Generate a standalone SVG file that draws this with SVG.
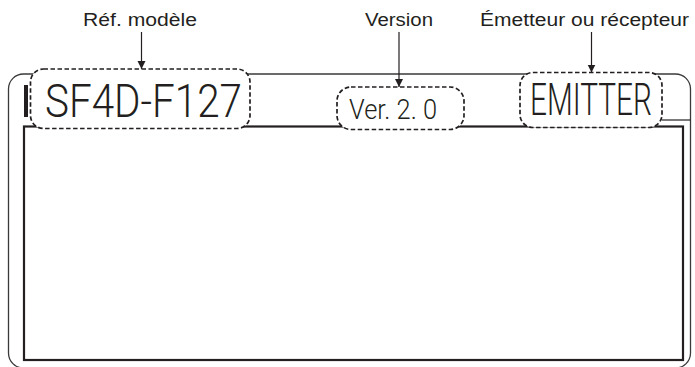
<svg xmlns="http://www.w3.org/2000/svg" width="695" height="367" viewBox="0 0 695 367">
<style>
.lbl{font-family:"Liberation Sans",Arial,sans-serif;font-size:18px;fill:#231f20}
.big{font-family:Roboto,"Liberation Sans",sans-serif;font-weight:300;fill:#231f20}
.dash{fill:#fff;stroke:#231f20;stroke-width:1.7;stroke-dasharray:4.5 2.5}
.ln{stroke:#231f20;stroke-width:1.2;fill:none}
</style>
<defs>
<marker id="ah" viewBox="0 0 10 10" refX="10" refY="5" markerWidth="8" markerHeight="11" markerUnits="userSpaceOnUse" orient="auto">
<path d="M0,0 L10,5 L0,10 z" fill="#231f20"/>
</marker>
</defs>
<g id="panel">
<rect x="8.5" y="74" width="682" height="294" rx="15" fill="none" stroke="#3a3a3a" stroke-width="1.3"/>
<line x1="662" y1="120" x2="690.5" y2="120" class="ln"/>
<rect x="24" y="126.5" width="659" height="233.5" fill="none" stroke="#231f20" stroke-width="2.2"/>
<rect x="24" y="85" width="4" height="32" fill="#231f20"/>
</g>
<g id="model">
<rect class="dash" x="30.5" y="69" width="219.5" height="59.5" rx="13"/>
<text class="big" x="45" y="116.5" font-size="47" textLength="197" lengthAdjust="spacingAndGlyphs">SF4D-F127</text>
</g>
<g id="version">
<rect class="dash" x="337" y="87" width="127" height="42.5" rx="14"/>
<text class="big" x="349" y="119" font-size="27" textLength="88" lengthAdjust="spacingAndGlyphs">Ver. 2. 0</text>
</g>
<g id="emitter">
<rect class="dash" x="520" y="72.5" width="142" height="55" rx="13"/>
<text class="big" transform="translate(530 115) scale(0.7 1)" x="0" y="0" font-size="44" textLength="174.3" lengthAdjust="spacingAndGlyphs">EMITTER</text>
</g>
<g id="labels">
<text class="lbl" x="83" y="26" textLength="114" lengthAdjust="spacingAndGlyphs">Réf. modèle</text>
<text class="lbl" x="365" y="26" textLength="68" lengthAdjust="spacingAndGlyphs">Version</text>
<text class="lbl" x="480" y="26" textLength="209" lengthAdjust="spacingAndGlyphs">Émetteur ou récepteur</text>
</g>
<g id="connectors">
<line x1="141.5" y1="32" x2="141.5" y2="69" class="ln" marker-end="url(#ah)"/>
<line x1="399" y1="32" x2="399" y2="87" class="ln" marker-end="url(#ah)"/>
<line x1="591.5" y1="32" x2="591.5" y2="72.5" class="ln" marker-end="url(#ah)"/>
</g>
</svg>
